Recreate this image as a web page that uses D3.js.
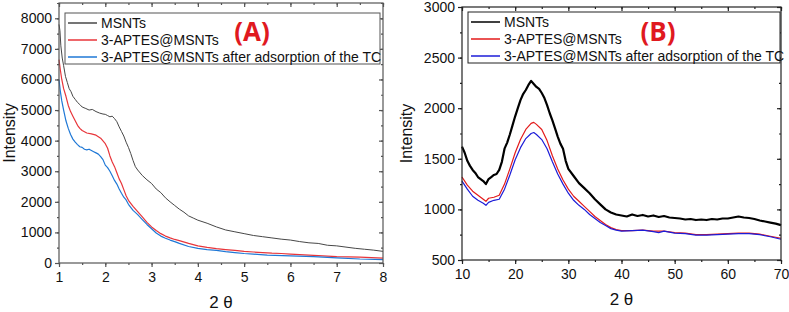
<!DOCTYPE html>
<html>
<head>
<meta charset="utf-8">
<script src="https://cdn.jsdelivr.net/npm/d3@7"></script>
<style>
  body { margin: 0; background: #fff; }
  svg text { font-family: "Liberation Sans", Arial, sans-serif; }
</style>
</head>
<body>
<div id="chart"></div>
<script>
// ---- panel (A) data: 2θ vs intensity ----
const aMsnt = [
  [1.00, 7800], [1.02, 7600], [1.04, 7100], [1.07, 6700], [1.10, 6450], [1.14, 6100], [1.18, 5900],
  [1.22, 5700], [1.26, 5600], [1.30, 5450], [1.35, 5350], [1.40, 5250], [1.45, 5180], [1.50, 5100],
  [1.58, 5050], [1.65, 5000], [1.72, 5020], [1.80, 4950], [1.88, 4900], [1.95, 4870], [2.00, 4860],
  [2.05, 4820], [2.10, 4780], [2.15, 4800], [2.20, 4720], [2.25, 4620], [2.30, 4450], [2.35, 4300],
  [2.40, 4150], [2.45, 3950], [2.50, 3780], [2.55, 3580], [2.60, 3350], [2.65, 3150], [2.70, 3040],
  [2.80, 2860], [2.90, 2720], [3.00, 2600], [3.10, 2420], [3.20, 2300], [3.30, 2130], [3.40, 2000],
  [3.50, 1880], [3.60, 1760], [3.70, 1660], [3.80, 1540], [3.90, 1470], [4.00, 1400], [4.20, 1300],
  [4.40, 1180], [4.60, 1080], [4.80, 1020], [5.00, 960], [5.20, 900], [5.40, 860], [5.60, 820],
  [5.80, 780], [6.00, 750], [6.20, 700], [6.40, 660], [6.60, 640], [6.80, 580], [7.00, 560],
  [7.20, 520], [7.40, 480], [7.60, 450], [7.80, 420], [8.00, 380]
];
const aAptes = [
  [1.00, 6650], [1.03, 6300], [1.06, 6000], [1.10, 5700], [1.15, 5450], [1.20, 5150], [1.25, 4950],
  [1.30, 4800], [1.35, 4650], [1.40, 4500], [1.45, 4400], [1.50, 4330], [1.60, 4250], [1.70, 4220],
  [1.80, 4180], [1.90, 4080], [2.00, 3900], [2.05, 3750], [2.10, 3500], [2.15, 3300], [2.20, 3150],
  [2.25, 2950], [2.30, 2750], [2.35, 2600], [2.40, 2400], [2.45, 2200], [2.50, 2050], [2.60, 1850],
  [2.70, 1680], [2.80, 1510], [2.90, 1330], [3.00, 1180], [3.10, 1060], [3.20, 960], [3.30, 880],
  [3.40, 820], [3.50, 770], [3.60, 730], [3.80, 640], [4.00, 560], [4.20, 510], [4.40, 470],
  [4.60, 440], [4.80, 410], [5.00, 380], [5.20, 360], [5.40, 340], [5.60, 320], [5.80, 310],
  [6.00, 290], [6.50, 250], [7.00, 210], [7.50, 190], [8.00, 160]
];
const aAfterTc = [
  [1.00, 6000], [1.03, 5600], [1.06, 5300], [1.10, 5000], [1.15, 4650], [1.20, 4400], [1.25, 4200],
  [1.30, 4050], [1.35, 3950], [1.40, 3870], [1.45, 3800], [1.50, 3780], [1.55, 3720], [1.60, 3700],
  [1.65, 3720], [1.70, 3680], [1.75, 3640], [1.80, 3600], [1.85, 3560], [1.90, 3480], [1.95, 3380],
  [2.00, 3200], [2.05, 3120], [2.10, 3000], [2.15, 2850], [2.20, 2700], [2.25, 2580], [2.30, 2420],
  [2.35, 2280], [2.40, 2150], [2.45, 2060], [2.50, 1920], [2.60, 1720], [2.70, 1580], [2.80, 1420],
  [2.90, 1260], [3.00, 1120], [3.10, 980], [3.20, 880], [3.30, 810], [3.40, 750], [3.50, 700],
  [3.60, 640], [3.80, 540], [4.00, 480], [4.20, 440], [4.40, 410], [4.60, 370], [4.80, 340],
  [5.00, 310], [5.20, 290], [5.50, 260], [6.00, 230], [6.50, 210], [7.00, 170], [7.50, 130], [8.00, 110]
];

// ---- panel (B) data ----
const bMsnt = [
  [10, 1620], [10.5, 1560], [11, 1480], [11.5, 1430], [12, 1390], [12.5, 1360], [13, 1320], [13.5, 1300],
  [14, 1280], [14.5, 1250], [15, 1300], [15.5, 1320], [16, 1340], [16.5, 1350], [17, 1390], [17.5, 1470],
  [18, 1600], [18.5, 1660], [19, 1740], [19.5, 1830], [20, 1920], [20.5, 2000], [21, 2080], [21.5, 2140],
  [22, 2180], [22.5, 2230], [23, 2270], [23.5, 2240], [24, 2210], [24.5, 2190], [25, 2150], [25.5, 2100],
  [26, 2030], [26.5, 1950], [27, 1880], [27.5, 1800], [28, 1720], [28.5, 1650], [29, 1600], [29.5, 1480],
  [30, 1400], [31, 1330], [32, 1260], [33, 1210], [34, 1160], [35, 1100], [36, 1050], [37, 1000],
  [38, 970], [39, 950], [40, 940], [41, 930], [42, 950], [43, 935], [44, 945], [45, 930], [46, 940],
  [47, 925], [48, 935], [49, 920], [50, 915], [51, 910], [52, 900], [53, 905], [54, 895], [55, 900],
  [56, 895], [57, 905], [58, 900], [59, 910], [60, 910], [61, 920], [62, 930], [63, 920], [64, 915],
  [65, 905], [66, 890], [67, 880], [68, 870], [69, 860], [70, 845]
];
const bAptes = [
  [10, 1320], [11, 1240], [12, 1180], [13, 1140], [14, 1100], [14.5, 1080], [15, 1110], [16, 1120],
  [17, 1140], [18, 1250], [19, 1400], [20, 1560], [21, 1690], [22, 1790], [23, 1850], [23.5, 1860],
  [24, 1840], [25, 1790], [26, 1680], [27, 1530], [28, 1400], [29, 1290], [30, 1200], [31, 1130],
  [32, 1080], [33, 1030], [34, 980], [35, 930], [36, 890], [37, 850], [38, 820], [39, 800], [40, 790],
  [42, 790], [44, 795], [46, 785], [48, 785], [50, 770], [52, 765], [54, 750], [56, 750], [58, 755],
  [60, 760], [62, 765], [64, 765], [66, 755], [68, 735], [70, 715]
];
const bAfterTc = [
  [10, 1280], [11, 1200], [12, 1130], [13, 1090], [14, 1060], [14.5, 1040], [15, 1070], [16, 1090],
  [17, 1100], [18, 1200], [19, 1340], [20, 1490], [21, 1610], [22, 1700], [23, 1750], [23.5, 1760],
  [24, 1740], [25, 1690], [26, 1600], [27, 1470], [28, 1350], [29, 1250], [30, 1160], [31, 1090],
  [32, 1040], [33, 1000], [34, 950], [35, 910], [36, 870], [37, 840], [38, 810], [39, 795], [40, 785],
  [42, 790], [44, 795], [46, 780], [47, 770], [48, 785], [50, 765], [52, 760], [54, 745], [56, 745],
  [58, 750], [60, 755], [62, 760], [64, 760], [66, 750], [68, 730], [70, 705]
];

const seriesNames = ["MSNTs", "3-APTES@MSNTs", "3-APTES@MSNTs after adsorption of the TC"];
const aXTicks = [1, 2, 3, 4, 5, 6, 7, 8];
const aYTicks = [0, 1000, 2000, 3000, 4000, 5000, 6000, 7000, 8000];
const bXTicks = [10, 20, 30, 40, 50, 60, 70];
const bYTicks = [500, 1000, 1500, 2000, 2500, 3000];

const svg = d3.select("#chart").append("svg")
  .attr("width", 789).attr("height", 312);

// 패널 하나 그리기
function drawPanel(cfg) {
  const x = d3.scaleLinear().domain(cfg.xDomain).range([cfg.left, cfg.right]);
  const y = d3.scaleLinear().domain(cfg.yDomain).range([cfg.bottom, cfg.top]);
  const g = svg.append("g");
  const fmt = d3.format("d");

  const minorX = d3.range(cfg.xDomain[0], cfg.xDomain[1] + 1e-9, cfg.xMinor);
  const minorY = d3.range(cfg.yDomain[0], cfg.yDomain[1] + 1e-9, cfg.yMinor);

  // lines
  const line = d3.line().x(d => x(d[0])).y(d => y(d[1]));
  cfg.series.forEach((s, i) => {
    g.append("path").datum(s)
      .attr("fill", "none")
      .attr("stroke", cfg.colors[i])
      .attr("stroke-width", cfg.widths[i])
      .attr("stroke-linejoin", "round")
      .attr("d", line);
  });

  // frame
  g.append("rect")
    .attr("x", cfg.left).attr("y", cfg.top)
    .attr("width", cfg.right - cfg.left).attr("height", cfg.bottom - cfg.top)
    .attr("fill", "none").attr("stroke", cfg.axisColor).attr("stroke-width", 1.2);

  // axes (bottom / left outward, top / right inward)
  const styleAxis = (sel, showText) => {
    sel.select(".domain").remove();
    sel.selectAll("line").attr("stroke", cfg.axisColor).attr("stroke-width", 1.2);
    sel.selectAll("text").attr("fill", "#111").style("font-size", "14px");
    if (!showText) sel.selectAll("text").remove();
  };
  g.append("g").attr("transform", `translate(0,${cfg.bottom})`)
    .call(d3.axisBottom(x).tickValues(cfg.xTicks).tickSize(4).tickPadding(5).tickFormat(fmt))
    .call(s => styleAxis(s, true));
  g.append("g").attr("transform", `translate(0,${cfg.bottom})`)
    .call(d3.axisBottom(x).tickValues(minorX).tickSize(2).tickFormat(""))
    .call(s => styleAxis(s, false));
  g.append("g").attr("transform", `translate(${cfg.left},0)`)
    .call(d3.axisLeft(y).tickValues(cfg.yTicks).tickSize(4).tickPadding(3).tickFormat(fmt))
    .call(s => styleAxis(s, true));
  g.append("g").attr("transform", `translate(${cfg.left},0)`)
    .call(d3.axisLeft(y).tickValues(minorY).tickSize(2).tickFormat(""))
    .call(s => styleAxis(s, false));
  g.append("g").attr("transform", `translate(0,${cfg.top})`)
    .call(d3.axisTop(x).tickValues(cfg.xTicks).tickSize(-4).tickFormat(""))
    .call(s => styleAxis(s, false));
  g.append("g").attr("transform", `translate(0,${cfg.top})`)
    .call(d3.axisTop(x).tickValues(minorX).tickSize(-2).tickFormat(""))
    .call(s => styleAxis(s, false));
  g.append("g").attr("transform", `translate(${cfg.right},0)`)
    .call(d3.axisRight(y).tickValues(cfg.yTicks).tickSize(-4).tickFormat(""))
    .call(s => styleAxis(s, false));
  g.append("g").attr("transform", `translate(${cfg.right},0)`)
    .call(d3.axisRight(y).tickValues(minorY).tickSize(-2).tickFormat(""))
    .call(s => styleAxis(s, false));

  // axis titles
  g.append("text")
    .attr("transform", `translate(${cfg.yTitleX},${(cfg.top + cfg.bottom) / 2}) rotate(-90)`)
    .attr("text-anchor", "middle").attr("dominant-baseline", "central")
    .style("font-size", "16px").attr("fill", "#111")
    .text("Intensity");
  g.append("text")
    .attr("x", (cfg.left + cfg.right) / 2).attr("y", cfg.xTitleY)
    .attr("text-anchor", "middle")
    .style("font-size", "17px").attr("fill", "#111")
    .text("2 θ");

  // legend
  const lg = g.append("g");
  lg.append("rect")
    .attr("x", cfg.legend.x).attr("y", cfg.legend.y)
    .attr("width", cfg.legend.w).attr("height", cfg.legend.h)
    .attr("fill", "#fff").attr("stroke", cfg.axisColor).attr("stroke-width", 1);
  seriesNames.forEach((name, i) => {
    const ry = cfg.legend.y + 10 + i * 17;
    lg.append("line")
      .attr("x1", cfg.legend.x + 3).attr("x2", cfg.legend.x + 32)
      .attr("y1", ry).attr("y2", ry)
      .attr("stroke", cfg.colors[i]).attr("stroke-width", 1.5);
    lg.append("text")
      .attr("x", cfg.legend.x + 36).attr("y", ry)
      .attr("dominant-baseline", "central")
      .style("font-size", "14px").attr("fill", "#111")
      .text(name);
  });

  // panel label
  g.append("text")
    .attr("x", cfg.labelX).attr("y", 31)
    .attr("text-anchor", "middle").attr("dominant-baseline", "central")
    .style("font-size", "26px").style("font-weight", "bold")
    .style("font-family", "'Open Sans', 'Liberation Sans', sans-serif")
    .attr("fill", "#e0191f")
    .text(cfg.label);
}

drawPanel({
  left: 59, right: 383, top: 3, bottom: 263,
  xDomain: [1, 8], yDomain: [0, 8500], xMinor: 0.5, yMinor: 500,
  xTicks: aXTicks, yTicks: aYTicks,
  series: [aMsnt, aAptes, aAfterTc],
  colors: ["#474747", "#e8353a", "#1f78d6"], widths: [1, 1.2, 1.2],
  axisColor: "#555",
  yTitleX: 9, xTitleY: 308,
  legend: { x: 65, y: 13, w: 315, h: 51 },
  label: "(A)", labelX: 252
});

drawPanel({
  left: 462, right: 781, top: 7, bottom: 260,
  xDomain: [10, 70], yDomain: [500, 3000], xMinor: 5, yMinor: 250,
  xTicks: bXTicks, yTicks: bYTicks,
  series: [bMsnt, bAptes, bAfterTc],
  colors: ["#000000", "#e31a1a", "#1c1cd8"], widths: [2.2, 1.2, 1.2],
  axisColor: "#222",
  yTitleX: 406, xTitleY: 305,
  legend: { x: 468, y: 12, w: 312, h: 51 },
  label: "(B)", labelX: 658
});
</script>
</body>
</html>
